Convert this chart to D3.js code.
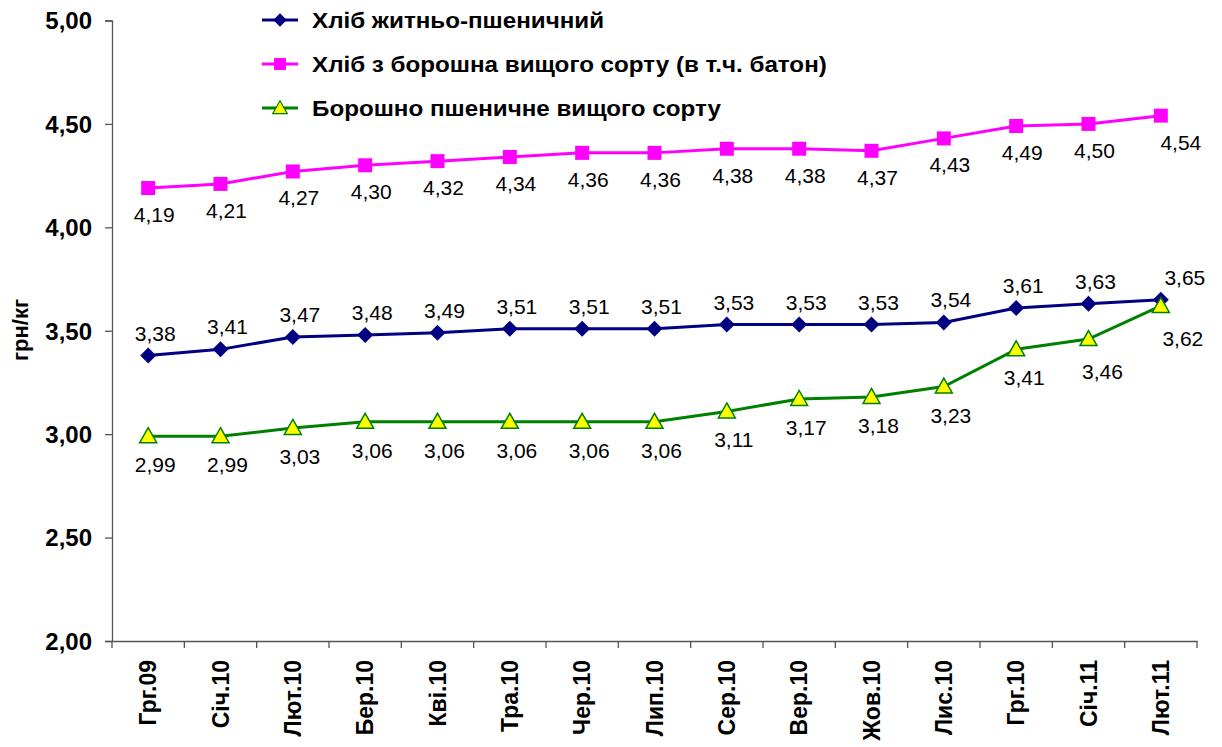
<!DOCTYPE html>
<html>
<head>
<meta charset="utf-8">
<script src="https://d3js.org/d3.v7.min.js"></script>
<style>
body { margin: 0; background: #fff; }
svg { display: block; font-family: Arial, "Liberation Sans", sans-serif; }
</style>
</head>
<body>
<svg width="1222" height="747"></svg>
<script>
var months = ["Грг.09", "Січ.10", "Лют.10", "Бер.10", "Кві.10", "Тра.10", "Чер.10", "Лип.10",
	"Сер.10", "Вер.10", "Жов.10", "Лис.10", "Грг.10", "Січ.11", "Лют.11"];
var ryeWheat = [3.38, 3.41, 3.47, 3.48, 3.49, 3.51, 3.51, 3.51, 3.53, 3.53, 3.53, 3.54, 3.61, 3.63, 3.65];
var whiteBread = [4.19, 4.21, 4.27, 4.30, 4.32, 4.34, 4.36, 4.36, 4.38, 4.38, 4.37, 4.43, 4.49, 4.50, 4.54];
var flour = [2.99, 2.99, 3.03, 3.06, 3.06, 3.06, 3.06, 3.06, 3.11, 3.17, 3.18, 3.23, 3.41, 3.46, 3.62];
var yTicks = [2.0, 2.5, 3.0, 3.5, 4.0, 4.5, 5.0];

var svg = d3.select("svg");

var x = d3.scaleBand().domain(months).range([112, 1197]);
var y = d3.scaleLinear().domain([2, 5]).range([641, 20.5]);
var cx = function (i) { return x(months[i]) + x.bandwidth() / 2; };
var fmt = function (v) { return d3.format(".2f")(v).replace(".", ","); };

// y axis
var yAxis = svg.append("g")
	.attr("transform", "translate(112,0)")
	.call(d3.axisLeft(y).tickValues(yTicks).tickSize(7).tickFormat(fmt));
yAxis.select(".domain").attr("stroke", "#555").attr("stroke-width", 1.3);
yAxis.selectAll(".tick line").attr("stroke", "#555").attr("stroke-width", 1.3);
yAxis.selectAll(".tick text")
	.attr("x", -20)
	.attr("dy", "0.35em")
	.style("font-size", "24px")
	.style("font-weight", "bold")
	.attr("fill", "#000");

// x axis
var xAxis = svg.append("g")
	.attr("transform", "translate(0,641)")
	.call(d3.axisBottom(x).tickSize(0).tickFormat(""));
xAxis.select(".domain").attr("stroke", "#555").attr("stroke-width", 1.3);
svg.append("g").selectAll("line")
	.data(d3.range(months.length + 1))
	.enter().append("line")
	.attr("x1", function (i) { return 112 + i * x.step(); })
	.attr("x2", function (i) { return 112 + i * x.step(); })
	.attr("y1", 641).attr("y2", 648)
	.attr("stroke", "#555").attr("stroke-width", 1.3);
svg.append("g").selectAll("text")
	.data(months)
	.enter().append("text")
	.attr("transform", function (d, i) { return "translate(" + (cx(i) + 8) + ",660) rotate(-90)"; })
	.attr("text-anchor", "end")
	.style("font-size", "23px")
	.style("font-weight", "bold")
	.text(function (d) { return d; });

// y title
svg.append("text")
	.attr("transform", "translate(28,330) rotate(-90)")
	.attr("text-anchor", "middle")
	.style("font-size", "22px")
	.style("font-weight", "bold")
	.text("грн/кг");

var line = d3.line()
	.x(function (d, i) { return cx(i); })
	.y(function (d) { return y(d); });

var series = [
	{ name: "Хліб житньо-пшеничний", values: ryeWheat, color: "#000080", marker: "diamond", fill: "#000080" },
	{ name: "Хліб з борошна вищого сорту (в т.ч. батон)", values: whiteBread, color: "#FF00FF", marker: "square", fill: "#FF00FF" },
	{ name: "Борошно пшеничне вищого сорту", values: flour, color: "#008000", marker: "triangle", fill: "#FFFF00" }
];

function markerPath(type) {
	if (type == "diamond") return "M0,-8L8,0L0,8L-8,0Z";
	if (type == "square") return "M-7,-7H7V7H-7Z";
	return "M0,-8.5L8.5,6.5L-8.5,6.5Z";
}

series.forEach(function (s) {
	svg.append("path")
		.datum(s.values)
		.attr("d", line)
		.attr("fill", "none")
		.attr("stroke", s.color)
		.attr("stroke-width", 3);

	svg.append("g").selectAll("path")
		.data(s.values)
		.enter().append("path")
		.attr("d", markerPath(s.marker))
		.attr("transform", function (d, i) { return "translate(" + cx(i) + "," + y(d) + ")"; })
		.attr("fill", s.fill)
		.attr("stroke", s.marker == "triangle" ? s.color : "none")
		.attr("stroke-width", 1.5);
});

// data labels
function labelOffset(s, i) {
	var last = i == s.values.length - 1;
	if (s.marker == "diamond") return last ? [24, -15] : [7, -15];
	if (s.marker == "square") return last ? [20, 34] : [6, 34];
	if (s.marker == "triangle") {
		if (i == 13) return [14, 40];
		if (last) return [22, 40];
		if (i == 12) return [8, 36];
		return [7, 36];
	}
	return [0, 0];
}

series.forEach(function (s) {
	svg.append("g").selectAll("text")
		.data(s.values)
		.enter().append("text")
		.attr("x", function (d, i) { return cx(i) + labelOffset(s, i)[0]; })
		.attr("y", function (d, i) { return y(d) + labelOffset(s, i)[1]; })
		.attr("text-anchor", "middle")
		.style("font-size", "21px")
		.text(function (d) { return fmt(d); });
});

// legend
var legend = svg.append("g").attr("transform", "translate(262,20)");
series.forEach(function (s, k) {
	var g = legend.append("g").attr("transform", "translate(0," + (k * 44) + ")");
	g.append("line")
		.attr("x1", 0).attr("x2", 36).attr("y1", 0).attr("y2", 0)
		.attr("stroke", s.color).attr("stroke-width", 3);
	g.append("path")
		.attr("d", markerPath(s.marker))
		.attr("transform", "translate(18,0) scale(0.85)")
		.attr("fill", s.fill)
		.attr("stroke", s.marker == "triangle" ? s.color : "none")
		.attr("stroke-width", 1.5);
	g.append("text")
		.attr("transform", "translate(50,0) scale(1.1,1)")
		.attr("dy", "0.36em")
		.style("font-size", "22px")
		.style("font-weight", "bold")
		.text(s.name);
});
</script>
</body>
</html>
